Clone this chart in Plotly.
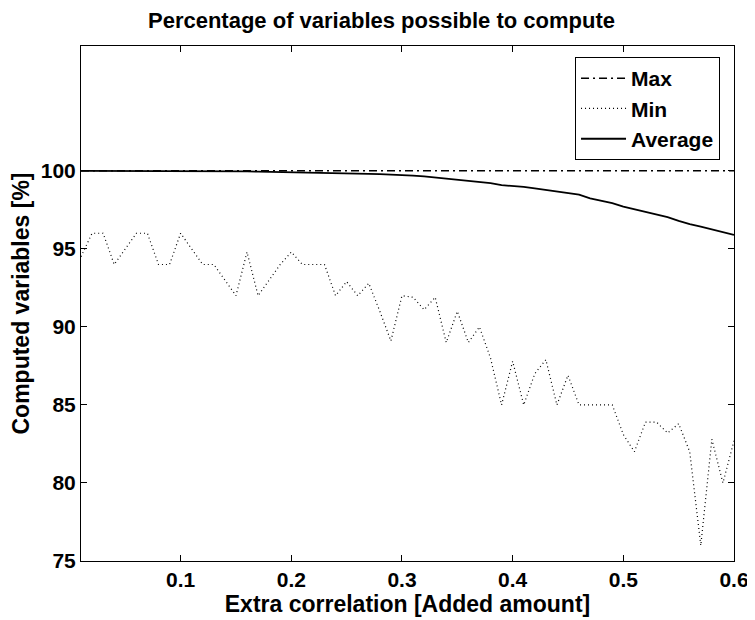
import plotly.graph_objects as go

x_vals = [round(0.01 * i, 2) for i in range(1, 61)]

max_vals = [100.0] * 60

min_vals = [94.5, 96, 96, 94, 95, 96, 96, 94, 94, 96,
            95, 94, 94, 93, 92, 94.8, 92, 93, 94, 94.8,
            94, 94, 94, 92, 92.9, 92, 92.8, 91, 89.1, 92,
            91.9, 91.1, 91.9, 89, 91, 89, 90, 88, 85, 87.8,
            85, 87, 87.9, 85, 86.9, 85, 85, 85, 85, 83.1,
            82, 83.9, 83.9, 83.2, 83.8, 82, 76, 82.8, 80, 82.7]

avg_vals = [100.0, 100.0, 100.0, 100.0, 100.0, 100.0, 100.0, 100.0, 100.0, 100.0,
            99.99, 99.99, 99.98, 99.98, 99.97, 99.96, 99.95, 99.94, 99.93, 99.92,
            99.91, 99.90, 99.88, 99.87, 99.85, 99.83, 99.81, 99.79, 99.77, 99.74,
            99.70, 99.64, 99.57, 99.49, 99.44, 99.38, 99.29, 99.21, 99.08, 99.04,
            98.97, 98.87, 98.78, 98.65, 98.57, 98.48, 98.23, 98.08, 97.93, 97.71,
            97.54, 97.35, 97.20, 97.03, 96.79, 96.58, 96.43, 96.26, 96.07, 95.90]

x_ticks = [0.1, 0.2, 0.3, 0.4, 0.5, 0.6]
y_ticks = [75, 80, 85, 90, 95, 100]

FONT = "Liberation Sans, Arial, Helvetica, sans-serif"

fig = go.Figure()
fig.add_trace(go.Scatter(x=x_vals, y=max_vals, mode="lines", name="Max",
                         line=dict(color="black", width=1.5, dash="8px,4px,2px,4px")))
fig.add_trace(go.Scatter(x=x_vals, y=min_vals, mode="lines", name="Min",
                         line=dict(color="black", width=1.2, dash="1px,3px")))
fig.add_trace(go.Scatter(x=x_vals, y=avg_vals, mode="lines", name="Average",
                         line=dict(color="black", width=1.8)))

axis_common = dict(
    showline=True, linecolor="black", linewidth=1, mirror="ticks",
    ticks="inside", ticklen=6, tickcolor="black", tickwidth=1,
    showgrid=False, zeroline=False, automargin=False,
    tickfont=dict(family=FONT, size=21, color="black", weight="bold"),
)

# page body has an 8px margin, so the figure is sized/offset to compensate
fig.update_layout(
    width=747, height=612,
    margin=dict(l=73, r=21, t=38, b=59),
    paper_bgcolor="white", plot_bgcolor="white",
    title=dict(text="Percentage of variables possible to compute",
               x=0.5, xanchor="center", y=0.9800, yanchor="middle",
               font=dict(family=FONT, size=22, color="black", weight="bold")),
    xaxis=dict(range=[0.01, 0.6], tickvals=x_ticks, ticktext=[str(v) for v in x_ticks],
               title=dict(text="Extra correlation [Added amount]", standoff=4,
                          font=dict(family=FONT, size=23, color="black", weight="bold")),
               **axis_common),
    yaxis=dict(range=[75, 108], tickvals=y_ticks, ticktext=[str(v) for v in y_ticks],
               title=dict(text="Computed variables [%]", standoff=8,
                          font=dict(family=FONT, size=23, color="black", weight="bold")),
               **axis_common),
    legend=dict(x=0.9786, y=0.9786, xanchor="right", yanchor="top",
                bgcolor="white", bordercolor="black", borderwidth=1,
                font=dict(family=FONT, size=21, color="black", weight="bold"),
                tracegroupgap=0, itemwidth=45),
    showlegend=True,
)

fig.write_html("out.html")
